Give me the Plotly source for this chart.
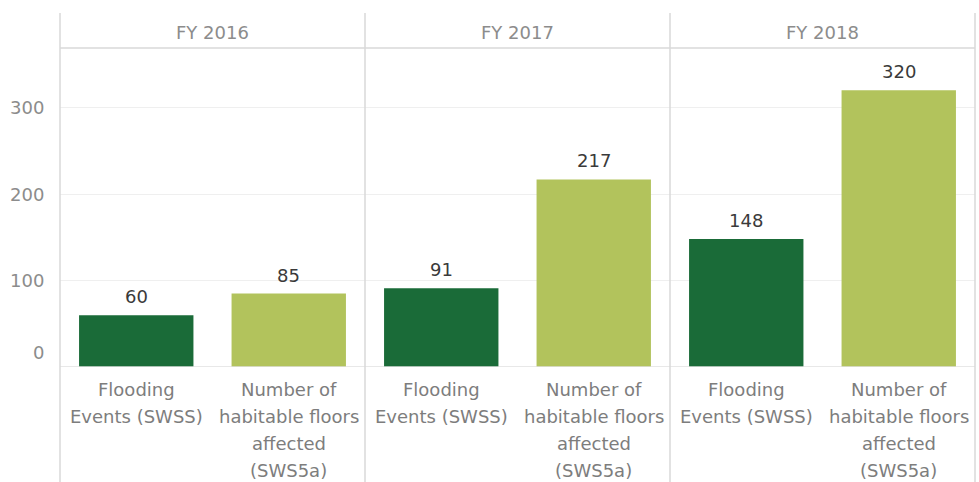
import plotly.graph_objects as go
from plotly.subplots import make_subplots

# Data
years = ["FY 2016", "FY 2017", "FY 2018"]
measures = ["Flooding Events (SWSS)", "Number of habitable floors affected (SWS5a)"]
measure_lines = [
    ["Flooding", "Events (SWSS)"],
    ["Number of", "habitable floors", "affected", "(SWS5a)"],
]
flooding_events = [60, 91, 148]
floors_affected = [85, 217, 320]
y_ticks = [0, 100, 200, 300]

colors = ["#1a6b38", "#b2c35c"]
FONT = "DejaVu Sans"
Y_MAX = 369

fig = make_subplots(rows=1, cols=3, shared_yaxes=True, horizontal_spacing=0)

for i, year in enumerate(years):
    vals = [flooding_events[i], floors_affected[i]]
    fig.add_trace(
        go.Bar(x=measures, y=vals, marker=dict(color=colors, line=dict(width=0)),
               showlegend=False, hoverinfo="x+y"),
        row=1, col=i + 1,
    )
    xref = "x" if i == 0 else f"x{i + 1}"
    # value labels above bars
    for m, v in zip(measures, vals):
        fig.add_annotation(x=m, y=v, xref=xref, yref="y", text=str(v),
                           showarrow=False, yanchor="bottom", yshift=6,
                           font=dict(family=FONT, size=18, color="#3a3a3a"))
    # category labels, one line each
    for m, lines in zip(measures, measure_lines):
        for k, line in enumerate(lines):
            fig.add_annotation(x=m, y=0, xref=xref, yref="paper", text=line,
                               showarrow=False, yanchor="middle",
                               yshift=-(22 + 27 * k),
                               font=dict(family=FONT, size=18, color="#7d7d7d"))
    # year header
    fig.add_annotation(x=0.5, y=1, xref=f"{xref} domain", yref="paper",
                       text=year, showarrow=False, yanchor="middle", yshift=16,
                       font=dict(family=FONT, size=18, color="#8c8c8c"))

for i in range(3):
    fig.update_xaxes(showticklabels=False, showgrid=False, zeroline=False,
                     showline=False, fixedrange=True, row=1, col=i + 1)

fig.update_yaxes(range=[0, Y_MAX], tickvals=y_ticks[1:], showticklabels=False,
                 showgrid=True, gridcolor="#efefef", gridwidth=1,
                 zeroline=False, showline=False)

# y tick labels
for t in y_ticks:
    fig.add_annotation(x=0, xref="paper", y=t, yref="y", text=str(t),
                       showarrow=False, xanchor="right", xshift=-14,
                       yshift=15 if t == 0 else 0,
                       font=dict(family=FONT, size=18, color="#8c8c8c"))

line_col = "#d9d9d9"
# baseline and header rule
fig.add_shape(type="line", xref="paper", yref="y", x0=0, x1=1, y0=0, y1=0,
              line=dict(color="#e0e0e0", width=1.5))
fig.add_shape(type="line", xref="paper", yref="paper", x0=0, x1=1, y0=1, y1=1,
              line=dict(color=line_col, width=1.5))
# panel dividers
for xv in [0, 1 / 3, 2 / 3, 1]:
    fig.add_shape(type="line", xref="paper", yref="paper", x0=xv, x1=xv,
                  y0=-0.4, y1=1.11, line=dict(color=line_col, width=1.5))

fig.update_layout(
    width=979, height=482,
    margin=dict(l=60, r=4, t=48, b=115),
    bargap=0.25,
    plot_bgcolor="white", paper_bgcolor="white",
    font=dict(family=FONT, size=18, color="#8c8c8c"),
)

fig.write_html("out.html")
